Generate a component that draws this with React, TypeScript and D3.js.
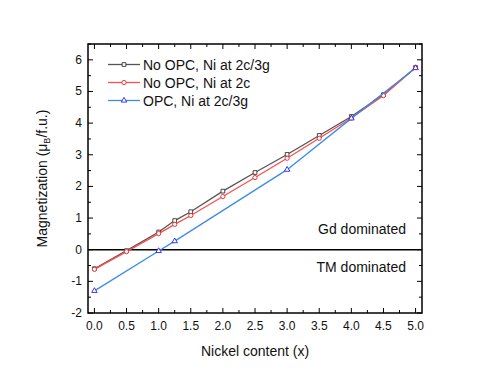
import { useEffect, useRef } from 'react'
import * as d3 from 'd3'

const xNoOpc3g = [0, 0.5, 1, 1.25, 1.5, 2, 2.5, 3, 3.5, 4, 4.5, 5]
const yNoOpc3g = [-0.6, -0.03, 0.56, 0.92, 1.2, 1.85, 2.44, 3.01, 3.61, 4.21, 4.9, 5.76]
const xNoOpc2c = [0, 0.5, 1, 1.25, 1.5, 2, 2.5, 3, 3.5, 4, 4.5, 5]
const yNoOpc2c = [-0.62, -0.06, 0.51, 0.8, 1.08, 1.68, 2.28, 2.89, 3.52, 4.16, 4.87, 5.76]
const xOpc3g = [0, 1, 1.25, 3, 4, 5]
const yOpc3g = [-1.3, -0.04, 0.27, 2.53, 4.15, 5.74]

const seriesNames = ['No OPC, Ni at 2c/3g', 'No OPC, Ni at 2c', 'OPC, Ni at 2c/3g']
const xTicks = [0, 0.5, 1, 1.5, 2, 2.5, 3, 3.5, 4, 4.5, 5]
const yTicks = [-2, -1, 0, 1, 2, 3, 4, 5, 6]

const W = 491
const H = 376
const m = { left: 88, right: 422, top: 44, bottom: 313 }

export default function App() {
  const ref = useRef<SVGSVGElement>(null)

  useEffect(() => {
    const svg = d3.select(ref.current)
    svg.selectAll('*').remove()
    const font = '"Liberation Sans", Arial, sans-serif'

    const x = d3.scaleLinear().domain([-0.1, 5.1]).range([m.left, m.right])
    const y = d3.scaleLinear().domain([-2, 6.5]).range([m.bottom, m.top])

    const g = svg.append('g').attr('font-family', font)

    // zero line
    g.append('line')
      .attr('x1', m.left).attr('x2', m.right)
      .attr('y1', y(0)).attr('y2', y(0))
      .attr('stroke', '#000').attr('stroke-width', 1.5)

    // ticks (inward, all four sides)
    const xMinor = d3.range(0, 5.01, 0.25)
    xMinor.forEach((v) => {
      const major = Math.abs(v * 2 - Math.round(v * 2)) < 1e-6
      const len = major ? 5 : 3
      g.append('line').attr('x1', x(v)).attr('x2', x(v))
        .attr('y1', m.bottom).attr('y2', m.bottom - len)
        .attr('stroke', '#000').attr('stroke-width', 1)
      g.append('line').attr('x1', x(v)).attr('x2', x(v))
        .attr('y1', m.top).attr('y2', m.top + len)
        .attr('stroke', '#000').attr('stroke-width', 1)
    })
    const yMinor = d3.range(-2, 6.51, 0.5)
    yMinor.forEach((v) => {
      const major = Math.abs(v - Math.round(v)) < 1e-6
      const len = major ? 5 : 3
      g.append('line').attr('x1', m.left).attr('x2', m.left + len)
        .attr('y1', y(v)).attr('y2', y(v))
        .attr('stroke', '#000').attr('stroke-width', 1)
      g.append('line').attr('x1', m.right).attr('x2', m.right - len)
        .attr('y1', y(v)).attr('y2', y(v))
        .attr('stroke', '#000').attr('stroke-width', 1)
    })

    g.selectAll('.xl').data(xTicks).enter().append('text')
      .attr('x', (d) => x(d)).attr('y', m.bottom + 17)
      .attr('text-anchor', 'middle').attr('font-size', 12).attr('fill', '#111')
      .text((d) => d.toFixed(1))
    g.selectAll('.yl').data(yTicks).enter().append('text')
      .attr('x', m.left - 6).attr('y', (d) => y(d) + 4)
      .attr('text-anchor', 'end').attr('font-size', 12).attr('fill', '#111')
      .text((d) => d)

    // frame
    g.append('rect')
      .attr('x', m.left).attr('y', m.top)
      .attr('width', m.right - m.left).attr('height', m.bottom - m.top)
      .attr('fill', 'none').attr('stroke', '#000').attr('stroke-width', 1.5)

    // axis titles
    g.append('text').attr('x', (m.left + m.right) / 2).attr('y', 356)
      .attr('text-anchor', 'middle').attr('font-size', 14).attr('fill', '#111')
      .text('Nickel content (x)')
    const yt = g.append('text')
      .attr('transform', `translate(47,${(m.top + m.bottom) / 2}) rotate(-90)`)
      .attr('text-anchor', 'middle').attr('font-size', 14).attr('fill', '#111')
    yt.append('tspan').text('Magnetization (μ')
    yt.append('tspan').attr('font-size', 9).attr('dy', 3).text('B')
    yt.append('tspan').attr('dy', -3).text('/f.u.)')

    // annotations
    g.append('text').attr('x', 406).attr('y', 234)
      .attr('text-anchor', 'end').attr('font-size', 14).attr('fill', '#111')
      .text('Gd dominated')
    g.append('text').attr('x', 406).attr('y', 272)
      .attr('text-anchor', 'end').attr('font-size', 14).attr('fill', '#111')
      .text('TM dominated')

    const line = d3.line<[number, number]>().x((d) => x(d[0])).y((d) => y(d[1]))
    const series = [
      { xs: xNoOpc3g, ys: yNoOpc3g, line: '#555', mark: '#333', shape: 'square' },
      { xs: xNoOpc2c, ys: yNoOpc2c, line: '#ff4d4d', mark: '#ee2222', shape: 'circle' },
      { xs: xOpc3g, ys: yOpc3g, line: '#3b8beb', mark: '#2222ee', shape: 'triangle' },
    ]
    const sym = {
      square: d3.symbol().type(d3.symbolSquare).size(14),
      circle: d3.symbol().type(d3.symbolCircle).size(14),
      triangle: d3.symbol().type(d3.symbolTriangle).size(13),
    }

    series.forEach((s) => {
      const pts = s.xs.map((v, i) => [v, s.ys[i]] as [number, number])
      g.append('path').attr('d', line(pts)).attr('fill', 'none')
        .attr('stroke', s.line).attr('stroke-width', 1.3)
      g.selectAll(null).data(pts).enter().append('path')
        .attr('d', sym[s.shape]())
        .attr('transform', (d) => `translate(${x(d[0])},${y(d[1])})`)
        .attr('fill', 'white').attr('stroke', s.mark).attr('stroke-width', 0.9)
    })

    // legend
    seriesNames.forEach((name, i) => {
      const s = series[i]
      const ly = 64.5 + i * 18
      g.append('line').attr('x1', 108).attr('x2', 140)
        .attr('y1', ly).attr('y2', ly)
        .attr('stroke', s.line).attr('stroke-width', 1.3)
      g.append('path').attr('d', sym[s.shape]())
        .attr('transform', `translate(124,${ly})`)
        .attr('fill', 'white').attr('stroke', s.mark).attr('stroke-width', 0.9)
      g.append('text').attr('x', 143).attr('y', ly + 5)
        .attr('font-size', 14).attr('fill', '#111').text(name)
    })
  }, [])

  return (
    <svg ref={ref} width={W} height={H}
      style={{ position: 'absolute', left: 0, top: 0, background: '#fff' }} />
  )
}
